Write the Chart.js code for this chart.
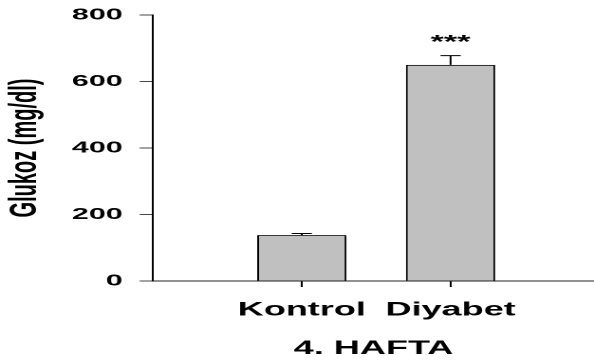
<!DOCTYPE html>
<html>
<head>
<meta charset="utf-8">
<script src="https://cdn.jsdelivr.net/npm/chart.js@4/dist/chart.umd.min.js"></script>
<style>
  html, body { margin: 0; padding: 0; background: #fff; overflow: hidden; }
  #wrap { position: relative; width: 594px; height: 363px; overflow: hidden; }
  #c { position: absolute; left: 0; top: 0; transform-origin: 0 0; }
</style>
</head>
<body>
<div id="wrap"><canvas id="c" width="313" height="363"></canvas></div>
<script>
// Blood glucose at week 4, mean ± SEM
const groups = ['Kontrol', 'Diyabet'];
const glucoseMean = [138, 650];
const glucoseSem = [5, 28];
const significance = ['', '***'];
const yTicks = [0, 200, 400, 600, 800];
const yTitle = 'Glukoz (mg/dl)';
const xTitle = '4. HAFTA';

const FONT = "'Liberation Sans', Arial, Helvetica, sans-serif";
const CANVAS_W = 313;
const STRETCH = 594 / CANVAS_W;           // wide, horizontally stretched lettering
document.getElementById('c').style.transform = 'scaleX(' + STRETCH + ')';

// Error bars and significance stars on top of each bar
const errorBars = {
  id: 'errorBars',
  afterDatasetsDraw(chart) {
    const { ctx, scales: { y } } = chart;
    const meta = chart.getDatasetMeta(0);
    ctx.save();
    ctx.strokeStyle = '#000';
    ctx.lineWidth = 1;
    meta.data.forEach((bar, i) => {
      const cx = bar.x;
      const base = y.getPixelForValue(glucoseMean[i]);
      const top = y.getPixelForValue(glucoseMean[i] + glucoseSem[i]);
      const half = bar.width * 0.113;
      ctx.beginPath();
      ctx.moveTo(cx, base);
      ctx.lineTo(cx, top);
      ctx.moveTo(cx - half, top);
      ctx.lineTo(cx + half, top);
      ctx.stroke();
      if (significance[i]) {
        ctx.fillStyle = '#000';
        ctx.font = 'bold 18px ' + FONT;
        ctx.textAlign = 'center';
        ctx.textBaseline = 'alphabetic';
        ctx.fillText(significance[i], cx, top - 7.5);
      }
    });
    ctx.restore();
  }
};

new Chart(document.getElementById('c'), {
  type: 'bar',
  data: {
    datasets: [{
      data: groups.map((g, i) => ({ x: i + 1, y: glucoseMean[i] })),
      backgroundColor: '#c0c0c0',
      borderColor: '#000',
      borderWidth: 1,
      categoryPercentage: 0.6,
      barPercentage: 1
    }]
  },
  options: {
    responsive: false,
    devicePixelRatio: 2,
    animation: false,
    layout: { padding: { top: 15, right: 0, bottom: 0, left: 0 } },
    plugins: { legend: { display: false }, tooltip: { enabled: false } },
    scales: {
      x: {
        type: 'linear',
        min: 0,
        max: 2.964,
        offset: false,
        afterFit(scale) { scale.height = 82; },
        grid: {
          offset: false,
          drawOnChartArea: false,
          tickLength: 6,
          color: (c) => (c.tick && c.tick.value >= 1 ? '#000' : 'rgba(0,0,0,0)')
        },
        border: { display: true, color: '#222', width: 1 },
        ticks: {
          stepSize: 1,
          includeBounds: false,
          autoSkip: false,
          maxRotation: 0,
          padding: 12,
          color: '#000',
          font: { family: FONT, size: 19, weight: 'bold' },
          callback: (v) => groups[v - 1] || ''
        },
        title: {
          display: true,
          text: xTitle,
          color: '#000',
          font: { family: FONT, size: 19, weight: 'bold' },
          padding: { top: 0, bottom: 2.9 }
        }
      },
      y: {
        min: yTicks[0],
        max: yTicks[yTicks.length - 1],
        afterFit(scale) {
          scale.width = 153 / STRETCH;
          scale.paddingTop = 0;
          scale.paddingBottom = 0;
        },
        afterBuildTicks(scale) { scale.ticks = yTicks.map(v => ({ value: v })); },
        grid: { drawOnChartArea: false, tickLength: 7, color: '#444' },
        border: { display: true, color: '#000', width: 1 },
        ticks: {
          padding: 9,
          color: '#000',
          font: { family: FONT, size: 16, weight: 'bold' }
        },
        title: {
          display: true,
          text: yTitle,
          color: '#000',
          font: { family: FONT, size: 20, weight: 'bold' },
          padding: { top: 1.4, bottom: 0 }
        }
      }
    }
  },
  plugins: [errorBars]
});
</script>
</body>
</html>
